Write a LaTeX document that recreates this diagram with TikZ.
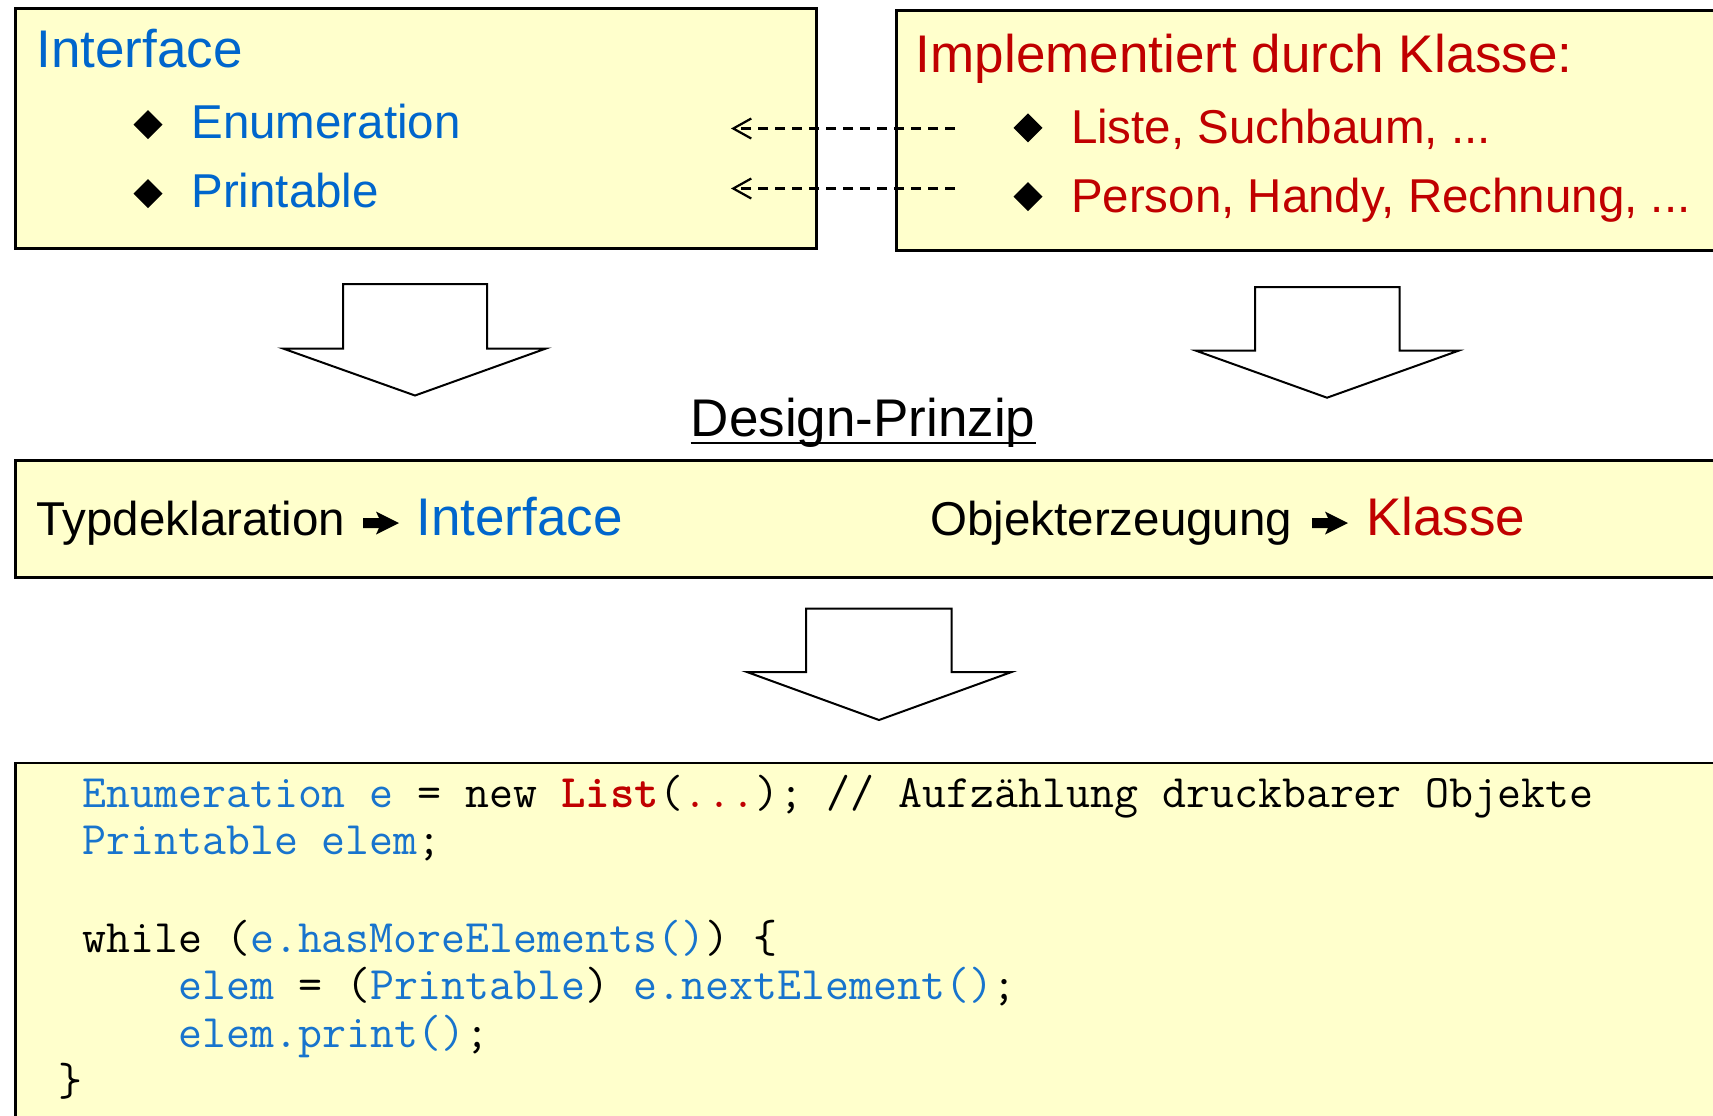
\documentclass[tikz,border=0pt]{standalone}
\usepackage{fontspec}
\setmainfont{Liberation Sans}
\usetikzlibrary{arrows.meta}
\definecolor{boxyellow}{HTML}{FFFFCC}
\definecolor{ifblue}{HTML}{0066CC}
\definecolor{klred}{HTML}{C00000}
\definecolor{codeblue}{HTML}{1874CD}
\newcommand\bigfont{\fontsize{26.5}{31}\selectfont}
\newcommand\midfont{\fontsize{23.75}{28}\selectfont}
\newcommand\codefont{\fontsize{23.26}{27}\selectfont\ttfamily\frenchspacing}
\newcommand\cb[1]{\textcolor{codeblue}{#1}}
\newcommand\bulletdia[2]{\fill[black] (#1-14.5,#2) -- (#1,#2-14.5) -- (#1+14.5,#2) -- (#1,#2+14.5) -- cycle;}
\newcommand\heavyarrow[2]{\fill[black] (#1,#2-5) -- (#1+16,#2-5) -- (#1+13,#2-11.5) -- (#1+36,#2) -- (#1+13,#2+11.5) -- (#1+16,#2+5) -- (#1,#2+5) -- cycle;}
\begin{document}
\begin{tikzpicture}[x=0.5pt,y=-0.5pt,
  box/.style={draw=black, line width=1.25pt, fill=boxyellow, rectangle, inner sep=0pt, anchor=north west},
  txt/.style={anchor=base west, inner sep=0pt},
  blockarrow/.style={draw=black, fill=white, line width=1pt, line join=miter},
  dep/.style={draw=black, line width=1.1pt, dash pattern=on 5pt off 3.5pt, -{Straight Barb[length=9pt,width=10pt,line width=1.1pt]}},
  code/.style={anchor=base west, inner sep=0pt, font=\codefont}]
\useasboundingbox (0,0) rectangle (1713,1115);
\clip (0,0) rectangle (1713,1115);
\fill[white] (0,0) rectangle (1713,1115);

% boxes
\node[box, minimum width=400.5pt, minimum height=120pt] (boxA) at (14,7) {};
\node[box, minimum width=425pt, minimum height=120pt] (boxB) at (895,9) {};
\node[box, minimum width=863pt, minimum height=58.5pt] (boxC) at (14,459) {};
\node[box, minimum width=863pt, minimum height=189.25pt] (boxD) at (14,761.5) {};

% box A
\node[txt, text=ifblue, font=\bigfont] (ifTitle) at (36,67.7) {Interface};
\bulletdia{148}{124.5}
\bulletdia{148}{193.5}
\node[txt, text=ifblue, font=\midfont] (enum) at (191,138.7) {Enumeration};
\node[txt, text=ifblue, font=\midfont] (printable) at (191,207.6) {Printable};

% box B
\node[txt, text=klred, font=\bigfont] (implTitle) at (915.5,72) {Implementiert durch Klasse:};
\bulletdia{1028}{127.8}
\bulletdia{1028}{196.7}
\node[txt, text=klred, font=\midfont] (liste) at (1070.6,143) {Liste, Suchbaum, ...};
\node[txt, text=klred, font=\midfont] (person) at (1070.6,212) {Person, Handy, Rechnung, ...};

% dashed dependency arrows
\coordinate (d1s) at (955,128.5);
\coordinate (d1e) at (731,128.5);
\coordinate (d2s) at (955,188.5);
\coordinate (d2e) at (731,188.5);
\draw[dep] (d1s) -- (d1e);
\draw[dep] (d2s) -- (d2e);

% block arrows
\draw[blockarrow] (343,284) -- (487,284) -- (487,348.5) -- (546,348.5) -- (415,395.5) -- (283,348.5) -- (343,348.5) -- cycle;
\draw[blockarrow] (1255,287) -- (1399.5,287) -- (1399.5,350.7) -- (1458.5,350.7) -- (1327,397.7) -- (1196,350.7) -- (1255,350.7) -- cycle;
\draw[blockarrow] (806,608.5) -- (951.6,608.5) -- (951.6,672) -- (1011.6,672) -- (879,720) -- (747,672) -- (806,672) -- cycle;

% Design-Prinzip
\node[txt, font=\bigfont] (dp) at (690.5,436) {Design-Prinzip};
\draw[line width=1.4pt] ([yshift=-3.5pt]dp.base west) -- ([yshift=-3.5pt]dp.base east);

% box C
\node[txt, font=\midfont] (typ) at (36,535) {Typdeklaration};
\heavyarrow{363}{523}
\node[txt, text=ifblue, font=\bigfont] (ifc) at (416,535) {Interface};
\node[txt, font=\midfont] (obj) at (930,535) {Objekterzeugung};
\heavyarrow{1312}{523}
\node[txt, text=klred, font=\bigfont] (kl) at (1365.6,535) {Klasse};

% code
\node[code] (c1) at (82,807) {\cb{Enumeration e} = new \textbf{\textcolor{klred}{List}}(\textcolor{klred}{...}); // Aufzählung druckbarer Objekte};
\node[code] (c2) at (82,854.5) {\cb{Printable elem};};
\node[code] (c3) at (82,952) {while (\cb{e.hasMoreElements()}) \{};
\node[code] (c4) at (178,999.5) {\cb{elem} = (\cb{Printable}) \cb{e.nextElement()};};
\node[code] (c5) at (178,1047) {\cb{elem.print()};};
\node[code] (c6) at (58,1095) {\}};
\end{tikzpicture}
\end{document}
